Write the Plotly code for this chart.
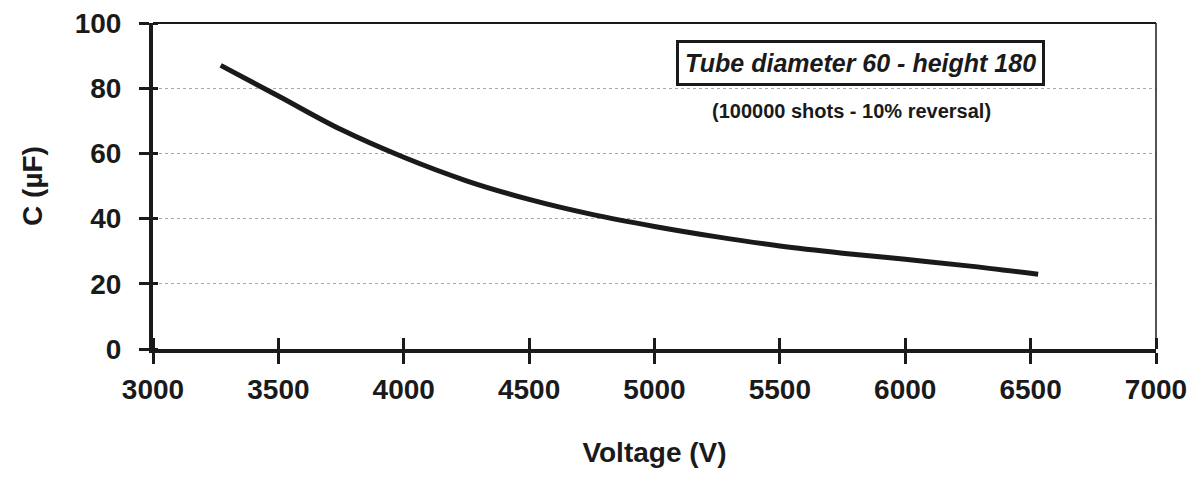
import plotly.graph_objects as go

# Data
voltage = [3270, 3500, 3750, 4000, 4250, 4500, 4750, 5000, 5250, 5500, 5750, 6000, 6250, 6530]
capacitance = [87.0, 77.6, 67.3, 58.8, 51.6, 45.9, 41.3, 37.6, 34.4, 31.6, 29.4, 27.5, 25.5, 22.9]

x_ticks = [3000, 3500, 4000, 4500, 5000, 5500, 6000, 6500, 7000]
y_ticks = [0, 20, 40, 60, 80, 100]

title_text = "Tube diameter 60 - height 180"
subtitle_text = "(100000 shots - 10% reversal)"
x_title = "Voltage (V)"
y_title = "C (µF)"

FONT = "Arial, 'Liberation Sans', Helvetica, sans-serif"
INK = "#1a1a1a"

fig = go.Figure()
fig.add_trace(go.Scatter(
    x=voltage, y=capacitance, mode="lines",
    line=dict(color=INK, width=5, shape="spline", smoothing=1.0),
    showlegend=False, hoverinfo="x+y",
))

fig.update_layout(
    width=1191, height=471,
    margin=dict(l=145, r=43, t=15, b=130),
    paper_bgcolor="white", plot_bgcolor="white",
    font=dict(family=FONT, color=INK),
    xaxis=dict(
        range=[3000, 7000], tickvals=x_ticks, ticktext=[str(v) for v in x_ticks],
        showline=True, linecolor=INK, linewidth=4,
        ticks="outside", ticklen=11, tickwidth=3, tickcolor=INK,
        minor=dict(tickvals=[v + 0.01 for v in x_ticks], ticks="inside", ticklen=11,
                   tickwidth=3, tickcolor=INK, showgrid=False),
        tickfont=dict(size=28, family=FONT, color=INK, weight="bold"),
        ticklabelstandoff=1, ticklabeloverflow="allow",
        showgrid=False, zeroline=False, automargin=False,
        title=dict(text="<b>" + x_title + "</b>", font=dict(size=28, family=FONT, color=INK), standoff=40),
    ),
    yaxis=dict(
        range=[0, 100], tickvals=y_ticks, ticktext=[str(v) for v in y_ticks],
        showline=True, linecolor=INK, linewidth=4,
        ticks="outside", ticklen=10, tickwidth=3, tickcolor=INK,
        minor=dict(tickvals=[v + 0.001 for v in y_ticks], ticks="inside", ticklen=5,
                   tickwidth=3, tickcolor=INK, showgrid=False),
        tickfont=dict(size=28, family=FONT, color=INK, weight="bold"),
        ticklabelstandoff=12, ticklabeloverflow="allow",
        showgrid=True, gridcolor="#a8a8a8", gridwidth=1, griddash="dot",
        zeroline=False, automargin=False,
        title=dict(text="<b>" + y_title + "</b>", font=dict(size=28, family=FONT, color=INK), standoff=25),
    ),
    shapes=[
        dict(type="line", xref="paper", yref="paper", x0=0, x1=1, y0=1, y1=1,
             line=dict(color=INK, width=1.8)),
        dict(type="line", xref="paper", yref="paper", x0=1, x1=1, y0=0, y1=1,
             line=dict(color=INK, width=1.5)),
    ],
    annotations=[
        dict(text="<b><i>" + title_text + "</i></b>", xref="paper", yref="paper",
             x=0.705, y=0.877, xanchor="center", yanchor="middle", showarrow=False,
             font=dict(size=25, family=FONT, color=INK),
             bordercolor=INK, borderwidth=3, borderpad=6, bgcolor="white"),
        dict(text="<b>" + subtitle_text + "</b>", xref="paper", yref="paper",
             x=0.696, y=0.73, xanchor="center", yanchor="middle", showarrow=False,
             font=dict(size=20, family=FONT, color=INK)),
    ],
)

fig.write_html("out.html")
